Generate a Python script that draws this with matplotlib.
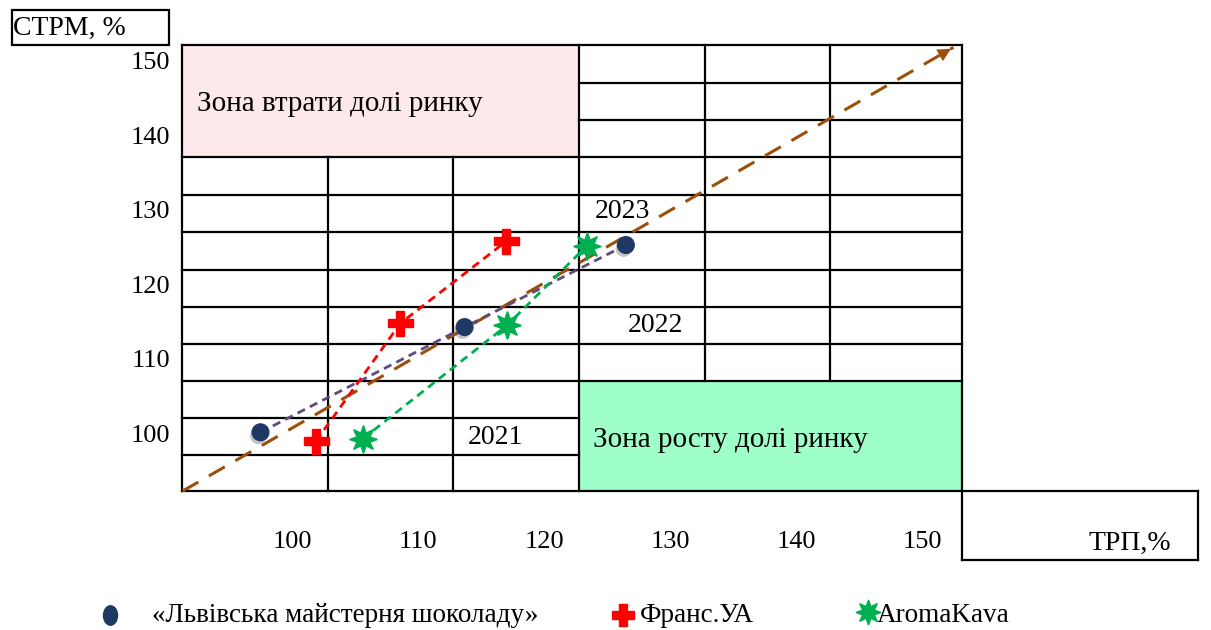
import matplotlib
matplotlib.use("Agg")
import matplotlib.pyplot as plt
import matplotlib.transforms as mtransforms
import matplotlib.patheffects as pe
from matplotlib.patches import Rectangle
from matplotlib.path import Path

plt.rcParams["font.family"] = ["Liberation Serif", "DejaVu Serif"]

# --- data -------------------------------------------------------------------
tick_vals = [100, 110, 120, 130, 140, 150]

lviv_x = [97.5, 113.7, 126.5]
lviv_y = [100.5, 114.6, 125.6]
frans_x = [101.9, 108.6, 117.0]
frans_y = [99.3, 115.1, 126.1]
aroma_x = [105.6, 117.1, 123.4]
aroma_y = [99.6, 114.9, 125.5]

trend_x = [91.3, 152.5]
trend_y = [92.6, 152.1]

years = ["2021", "2022", "2023"]
names = ["«Львівська майстерня шоколаду»", "Франс.УА", "AromaKava"]

NAVY, RED, GREEN = "#1F3864", "#FF0000", "#00B050"
BROWN, PURPLE = "#9C4F0A", "#604A7B"
STAR = (8, 1, 0)

# --- figure: one axes over the whole canvas --------------------------------
W, H = 1211, 630
fig = plt.figure(figsize=(W / 100, H / 100), dpi=100)
ax = fig.add_axes([0, 0, 1, 1])
ax.axis("off")

# 100 -> x 292 px, 12.6 px per unit; 100 -> y 436 px, 7.46 px per unit
ax.set_xlim(100 - 292 / 12.6, 100 + (W - 292) / 12.6)
ax.set_ylim(100 - (H - 436) / 7.46, 100 + 436 / 7.46)

# pixel transform (origin top-left) for the table layout
pix = mtransforms.Affine2D().scale(1 / W, -1 / H).translate(0, 1) + fig.transFigure

# zones
ax.add_patch(Rectangle((182, 45), 397, 112, transform=pix, facecolor="#FDE9EA",
                       edgecolor="none", zorder=0))
ax.add_patch(Rectangle((579, 381), 383, 110, transform=pix, facecolor="#9FFFC8",
                       edgecolor="none", zorder=0))

LW = 1.6
def hline(y, x0, x1):
    ax.plot([x0, x1], [y, y], color="black", lw=LW, transform=pix, zorder=1,
            solid_capstyle="projecting")

def vline(x, y0, y1):
    ax.plot([x, x], [y0, y1], color="black", lw=LW, transform=pix, zorder=1,
            solid_capstyle="projecting")

# table grid
hline(45, 182, 962)
for y in (83, 120):
    hline(y, 579, 962)
for y in (157, 195, 232, 270, 307, 344, 381):
    hline(y, 182, 962)
for y in (418, 455):
    hline(y, 182, 579)
hline(491, 182, 1198)
hline(560, 962, 1198)

vline(182, 45, 491)
for x in (328, 453):
    vline(x, 157, 491)
vline(579, 45, 491)
for x in (705, 830):
    vline(x, 45, 381)
vline(962, 45, 560)
vline(1198, 491, 560)

# axis titles in boxes
ax.add_patch(Rectangle((12, 10), 157, 35, transform=pix, facecolor="none",
                       edgecolor="black", lw=LW, zorder=1))
ax.text(13, 28, "СТРМ, %", transform=pix, fontsize=20, ha="left", va="center")
ax.text(1130, 543, "ТРП,%", transform=pix, fontsize=20, ha="center", va="center")

# tick labels
for v in tick_vals:
    ax.text(v, 74.0 + (630 - 542) / 7.46, str(v), fontsize=19, ha="center", va="center")
    ax.text(76.825 + 170 / 12.6, v, str(v), fontsize=19, ha="right", va="center")

# zone captions and years
ax.text(197, 104, "Зона втрати долі ринку", transform=pix, fontsize=21,
        ha="left", va="center")
ax.text(593, 440, "Зона росту долі ринку", transform=pix, fontsize=21,
        ha="left", va="center")
for yr, (px, py) in zip(years, [(495, 437), (655, 325), (622, 212)]):
    ax.text(px, py, yr, transform=pix, fontsize=20, ha="center", va="center")

# trend arrow
ax.plot(trend_x, trend_y, color=BROWN, lw=2.2, dashes=(6, 4), zorder=3)
ax.annotate("", xy=(trend_x[1], trend_y[1]),
            xytext=(trend_x[1] - 1.0, trend_y[1] - 0.97),
            arrowprops=dict(arrowstyle="-|>", color=BROWN, lw=0,
                            mutation_scale=24), zorder=4)

# company trajectories
ball_fx = [pe.SimplePatchShadow(offset=(-1.5, -2.5), shadow_rgbFace="#555555",
                                alpha=0.35), pe.Normal()]
ax.plot(lviv_x, lviv_y, color=PURPLE, lw=2, dashes=(3, 2), zorder=4)
ax.plot(lviv_x, lviv_y, ls="none", marker="o", ms=12, color=NAVY, zorder=5,
        path_effects=ball_fx)
ax.plot(frans_x, frans_y, color=RED, lw=2, dashes=(3, 2), zorder=4)
ax.plot(frans_x, frans_y, ls="none", marker="P", ms=18, color=RED, zorder=5)
ax.plot(aroma_x, aroma_y, color=GREEN, lw=2, dashes=(3, 2), zorder=4)
ax.plot(aroma_x, aroma_y, ls="none", marker=STAR, ms=20, color=GREEN, zorder=5)

# legend row
oval = Path.unit_circle().transformed(mtransforms.Affine2D().scale(0.72, 1.0))
ax.plot([110], [615], transform=pix, marker=oval, ms=14, color=NAVY, ls="none")
ax.text(152, 615, names[0], transform=pix, fontsize=19.5, ha="left", va="center")
ax.plot([623], [615], transform=pix, marker="P", ms=16, color=RED, ls="none")
ax.text(640, 615, names[1], transform=pix, fontsize=19.5, ha="left", va="center")
ax.plot([868], [612], transform=pix, marker=STAR, ms=18, color=GREEN, ls="none")
ax.text(877, 615, names[2], transform=pix, fontsize=19.5, ha="left", va="center")

fig.savefig("out.png", dpi=100, facecolor="white")
